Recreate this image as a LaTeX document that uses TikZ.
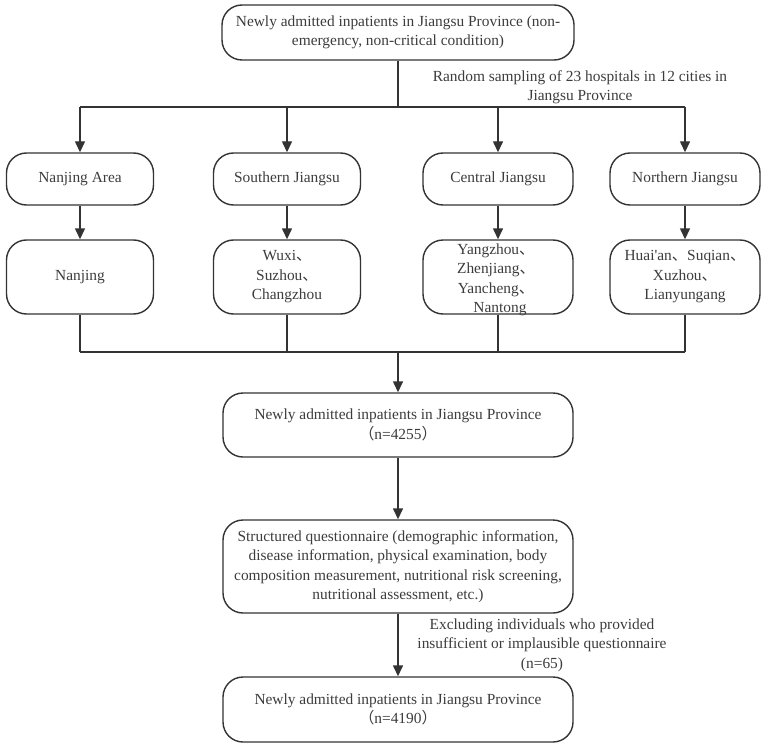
\documentclass[tikz,border=0pt]{standalone}
\usepackage{fontspec}
\setmainfont{Liberation Serif}
\newfontfamily\cjk{Noto Sans CJK SC}
\usetikzlibrary{arrows.meta}
\definecolor{linec}{HTML}{333333}
\definecolor{textc}{HTML}{3C3C3C}
\newcommand{\dn}{{\cjk 、}}
\newcommand{\lp}{{\cjk （}}
\newcommand{\rp}{{\cjk ）}}
\tikzset{
  box/.style={draw=linec, line width=1.4pt, rounded corners=20pt, align=center,
    text=textc, font=\fontsize{15.4}{19.5}\selectfont, inner sep=2pt},
  conn/.style={draw=linec, line width=1.4pt},
  arr/.style={conn, -{Triangle[length=11pt,width=10pt]}},
  lbl/.style={align=center, text=textc, font=\fontsize{15.4}{19.5}\selectfont, inner sep=0pt}
}
\begin{document}
\begin{tikzpicture}[x=1pt,y=-1pt]
\useasboundingbox (0,0) rectangle (767,746);
\node[box, minimum width=352pt, minimum height=55pt] (top) at (398,32.5)
  {Newly admitted inpatients in Jiangsu Province (non-\\emergency, non-critical condition)};
\node[lbl] (samp) at (580,87) {Random sampling of 23 hospitals in 12 cities in\\Jiangsu Province};
\coordinate (b1) at (398,107);

\node[box, minimum width=147pt, minimum height=52pt] (na) at (80,179) {Nanjing Area};
\node[box, minimum width=147pt, minimum height=52pt] (sj) at (287,179) {Southern Jiangsu};
\node[box, minimum width=150pt, minimum height=52pt] (cj) at (498,179) {Central Jiangsu};
\node[box, minimum width=150pt, minimum height=52pt] (nj) at (685,179) {Northern Jiangsu};

\node[box, minimum width=147pt, minimum height=74pt] (na2) at (80,277) {Nanjing};
\node[box, minimum width=147pt, minimum height=74pt] (sj2) at (287,277) {Wuxi\dn\\Suzhou\dn\\Changzhou};
\node[box, minimum width=150pt, minimum height=74pt, inner sep=0pt] (cj2) at (498,277) {};
\node[lbl] (cjt) at (496,280) {Yangzhou\dn\\Zhenjiang\dn\\Yancheng\dn\\\hspace*{8pt}Nantong};
\node[box, minimum width=150pt, minimum height=74pt] (nj2) at (685,277) {Huai\textquotesingle an\dn Suqian\dn\\Xuzhou\dn\\Lianyungang};

\coordinate (b2) at (398,352);

\node[box, minimum width=350pt, minimum height=64pt] (n1) at (398,425)
  {Newly admitted inpatients in Jiangsu Province\\\lp n=4255\rp};
\node[box, minimum width=350pt, minimum height=93pt] (q) at (398,566.5)
  {Structured questionnaire (demographic information,\\disease information, physical examination, body\\composition measurement, nutritional risk screening,\\nutritional assessment, etc.)};
\node[box, minimum width=350pt, minimum height=65pt] (n2) at (398,709.5)
  {Newly admitted inpatients in Jiangsu Province\\\lp n=4190\rp};
\node[lbl] (excl) at (542,645) {Excluding individuals who provided\\insufficient or implausible questionnaire\\(n=65)};

\draw[conn] (top) -- (b1);
\draw[conn] (b1 -| na) -- (b1 -| nj);
\draw[arr] (b1 -| na) -- (na);
\draw[arr] (b1 -| sj) -- (sj);
\draw[arr] (b1 -| cj) -- (cj);
\draw[arr] (b1 -| nj) -- (nj);
\draw[arr] (na) -- (na2);
\draw[arr] (sj) -- (sj2);
\draw[arr] (cj) -- (cj2);
\draw[arr] (nj) -- (nj2);
\draw[conn] (na2) -- (b2 -| na2);
\draw[conn] (sj2) -- (b2 -| sj2);
\draw[conn] (cj2) -- (b2 -| cj2);
\draw[conn] (nj2) -- (b2 -| nj2);
\draw[conn] (b2 -| na2) -- (b2 -| nj2);
\draw[arr] (b2) -- (n1);
\draw[arr] (n1) -- (q);
\draw[arr] (q) -- (n2);
\end{tikzpicture}
\end{document}
